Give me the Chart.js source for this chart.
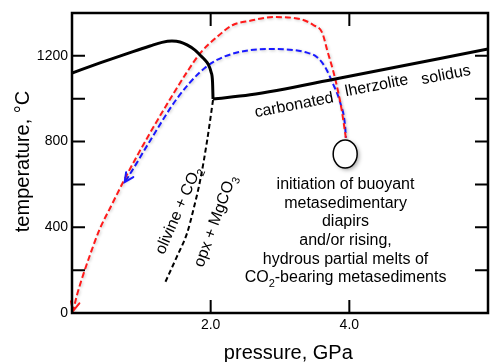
<!DOCTYPE html>
<html><head><meta charset="utf-8">
<script src="https://cdn.jsdelivr.net/npm/chart.js@4"></script>
<style>html,body{margin:0;padding:0;background:#fff}#wrap{width:490px;height:362px;position:relative}</style>
</head><body><div id="wrap"><canvas id="c"></canvas></div>
<script>
// ---- data (pressure GPa, temperature °C) ----
const pressureTicks = [2, 4];
const tempTicks = [0, 400, 800, 1200];
const tempTickMarks = [200, 400, 600, 800, 1000, 1200];
const drySolidusP = [0, 0.404, 0.880, 1.125, 1.298, 1.442, 1.558, 1.659, 1.774, 1.846, 1.918, 1.962, 2.005, 2.027, 2.034];
const drySolidusT = [1120, 1167, 1220, 1246, 1263, 1269, 1265, 1251, 1227, 1204, 1181, 1162, 1125, 1078, 999];
const carbSolidusP = [2.034, 2.57, 3.87, 6.0];
const carbSolidusT = [999, 1018, 1097, 1232];
const reactionP = [2.034, 1.95, 1.85, 1.75, 1.66, 1.51, 1.34];
const reactionT = [994, 807, 621, 481, 373, 261, 140];
const redPathP = [3.95, 3.89, 3.79, 3.68, 3.61, 3.48, 3.29, 2.90, 2.57, 2.32, 2.09, 1.85, 1.66, 1.46, 1.125, 0.79, 0.55, 0.40, 0.26, 0.16, 0.072, 0.014];
const redPathT = [817, 947, 1101, 1227, 1307, 1344, 1372, 1381, 1364, 1344, 1288, 1213, 1125, 1022, 840, 644, 490, 392, 271, 177, 84, 9];
const bluePathP = [3.95, 3.94, 3.87, 3.76, 3.65, 3.53, 3.39, 2.90, 2.57, 2.09, 1.85, 1.51, 1.125, 0.81, 0.76];
const bluePathT = [817, 868, 980, 1073, 1148, 1195, 1215, 1232, 1227, 1181, 1125, 999, 803, 635, 611];
const diapirP = 3.94, diapirT = 742;
const noteLines = [
  [{t:'initiation of buoyant'}],
  [{t:'metasedimentary'}],
  [{t:'diapirs'}],
  [{t:'and/or rising,'}],
  [{t:'hydrous partial melts of'}],
  [{t:'CO'},{t:'2',sub:true},{t:'-bearing metasediments'}]
];

const pts = (xs, ys) => xs.map((x, i) => ({x, y: ys[i]}));
const FONT = '"Liberation Sans", Arial, Helvetica, sans-serif';

function drawRich(ctx, parts, x, y, angleDeg, size, vcenter) {
  ctx.save();
  ctx.translate(x, y);
  ctx.rotate(angleDeg * Math.PI / 180);
  const main = size + 'px ' + FONT;
  const sub = Math.round(size * 0.68) + 'px ' + FONT;
  let w = 0;
  parts.forEach(p => { ctx.font = p.sub ? sub : main; w += ctx.measureText(p.t).width; });
  let cx = -w / 2;
  const by = vcenter ? size * 0.36 : 0;
  ctx.textBaseline = 'alphabetic';
  ctx.textAlign = 'left';
  ctx.fillStyle = '#000';
  parts.forEach(p => {
    ctx.font = p.sub ? sub : main;
    ctx.fillText(p.t, cx, by + (p.sub ? size * 0.28 : 0));
    cx += ctx.measureText(p.t).width;
  });
  ctx.restore();
}

function arrowHead(ctx, a, b, color) {
  const ang = Math.atan2(b.y - a.y, b.x - a.x);
  const L = 10, s = 0.45;
  ctx.save();
  ctx.strokeStyle = color; ctx.lineWidth = 2; ctx.setLineDash([]);
  ctx.lineCap = 'round';
  ctx.beginPath();
  ctx.moveTo(b.x - L * Math.cos(ang - s), b.y - L * Math.sin(ang - s));
  ctx.lineTo(b.x, b.y);
  ctx.lineTo(b.x - L * Math.cos(ang + s), b.y - L * Math.sin(ang + s));
  ctx.stroke();
  ctx.restore();
}

const decor = {
  id: 'decor',
  beforeDatasetDraw(chart, args) {
    const ds = chart.data.datasets[args.index];
    chart.ctx.save();
    if (ds.glow) {
      chart.ctx.shadowColor = 'rgba(0,0,0,0.22)';
      chart.ctx.shadowBlur = 3;
      chart.ctx.shadowOffsetX = 1;
      chart.ctx.shadowOffsetY = 1;
    }
  },
  afterDatasetDraw(chart) { chart.ctx.restore(); },
  afterDatasetsDraw(chart) {
    const ctx = chart.ctx, xs = chart.scales.x, ys = chart.scales.y, a = chart.chartArea;
    chart.data.datasets.forEach((ds, i) => {
      if (!ds.arrow) return;
      const d = chart.getDatasetMeta(i).data;
      arrowHead(ctx, d[d.length - 2], d[d.length - 1], ds.borderColor);
    });
    ctx.save();
    ctx.strokeStyle = '#000'; ctx.lineWidth = 2.5; ctx.setLineDash([]);
    ctx.strokeRect(a.left, a.top, a.right - a.left, a.bottom - a.top);
    ctx.lineWidth = 2;
    const TL = 13;
    ctx.beginPath();
    tempTickMarks.forEach(v => {
      const y = ys.getPixelForValue(v);
      ctx.moveTo(a.left, y); ctx.lineTo(a.left + TL, y);
      ctx.moveTo(a.right, y); ctx.lineTo(a.right - TL, y);
    });
    pressureTicks.forEach(v => {
      const x = xs.getPixelForValue(v);
      ctx.moveTo(x, a.bottom); ctx.lineTo(x, a.bottom - TL);
      ctx.moveTo(x, a.top); ctx.lineTo(x, a.top + TL);
    });
    ctx.stroke();
    const ex = xs.getPixelForValue(diapirP), ey = ys.getPixelForValue(diapirT);
    ctx.shadowColor = 'rgba(0,0,0,0.35)'; ctx.shadowBlur = 4; ctx.shadowOffsetX = 2; ctx.shadowOffsetY = 2;
    ctx.beginPath(); ctx.ellipse(ex, ey, 12, 14, 0, 0, Math.PI * 2);
    ctx.fillStyle = '#fff'; ctx.fill();
    ctx.shadowColor = 'transparent';
    ctx.lineWidth = 1.5; ctx.stroke();
    ctx.restore();

    const P = (x, y) => [xs.getPixelForValue(x), ys.getPixelForValue(y)];
    let q;
    q = P(3.20, 975); drawRich(ctx, [{t:'carbonated'}], q[0], q[1], -11, 16, true);
    q = P(4.39, 1066); drawRich(ctx, [{t:'lherzolite'}], q[0], q[1], -11, 16, true);
    q = P(5.39, 1116); drawRich(ctx, [{t:'solidus'}], q[0], q[1], -11, 16, true);
    q = P(1.52, 481); drawRich(ctx, [{t:'olivine + CO'},{t:'2',sub:true}], q[0], q[1], -66.4, 16, true);
    q = P(2.05, 431); drawRich(ctx, [{t:'opx + MgCO'},{t:'3',sub:true}], q[0], q[1], -70, 16, true);
    q = P(3.945, 579);
    noteLines.forEach((ln, i) => drawRich(ctx, ln, q[0], q[1] + i * 18.7, 0, 16, false));
    q = P(3.12, 707);
    drawRich(ctx, [{t:'pressure, GPa'}], q[0], chart.height - 3, 0, 20, false);
    drawRich(ctx, [{t:'temperature, °C'}], 29, q[1], -90, 20, false);
  }
};

const line = (data, color, extra) => Object.assign({
  data, borderColor: color, borderWidth: 2, pointRadius: 0, fill: false, cubicInterpolationMode: 'monotone'
}, extra);

new Chart(document.getElementById('c'), {
  type: 'line',
  data: {
    datasets: [
      line(pts(drySolidusP, drySolidusT), '#000', {borderWidth: 3}),
      line(pts(carbSolidusP, carbSolidusT), '#000', {borderWidth: 3}),
      line(pts(reactionP, reactionT), '#000', {borderWidth: 2, borderDash: [5, 3]}),
      line(pts(redPathP, redPathT), '#ff1a1a', {borderDash: [6, 3], glow: true, arrow: true}),
      line(pts(bluePathP, bluePathT), '#1a1aff', {borderDash: [6, 3], borderDashOffset: 4, glow: true, arrow: true})
    ]
  },
  options: {
    responsive: true, maintainAspectRatio: false, animation: false,
    layout: {padding: {top: 13, right: 2, left: 0, bottom: 0}},
    plugins: {legend: {display: false}, tooltip: {enabled: false}},
    scales: {
      x: {
        type: 'linear', min: 0, max: 6,
        afterBuildTicks: s => { s.ticks = pressureTicks.map(v => ({value: v})); },
        afterFit: s => { s.height = 49; },
        grid: {display: false, drawTicks: false},
        border: {display: false},
        ticks: {padding: 4, color: '#000', font: {size: 14, family: FONT}, maxRotation: 0, autoSkip: false,
                callback: v => Number(v).toFixed(1)}
      },
      y: {
        type: 'linear', min: 0, max: 1400,
        afterBuildTicks: s => { s.ticks = tempTicks.map(v => ({value: v})); },
        afterFit: s => { s.width = 72; },
        grid: {display: false, drawTicks: false},
        border: {display: false},
        ticks: {padding: 4, color: '#000', font: {size: 14, family: FONT}, autoSkip: false,
                callback: v => String(v)}
      }
    }
  },
  plugins: [decor]
});
</script>
</body></html>
